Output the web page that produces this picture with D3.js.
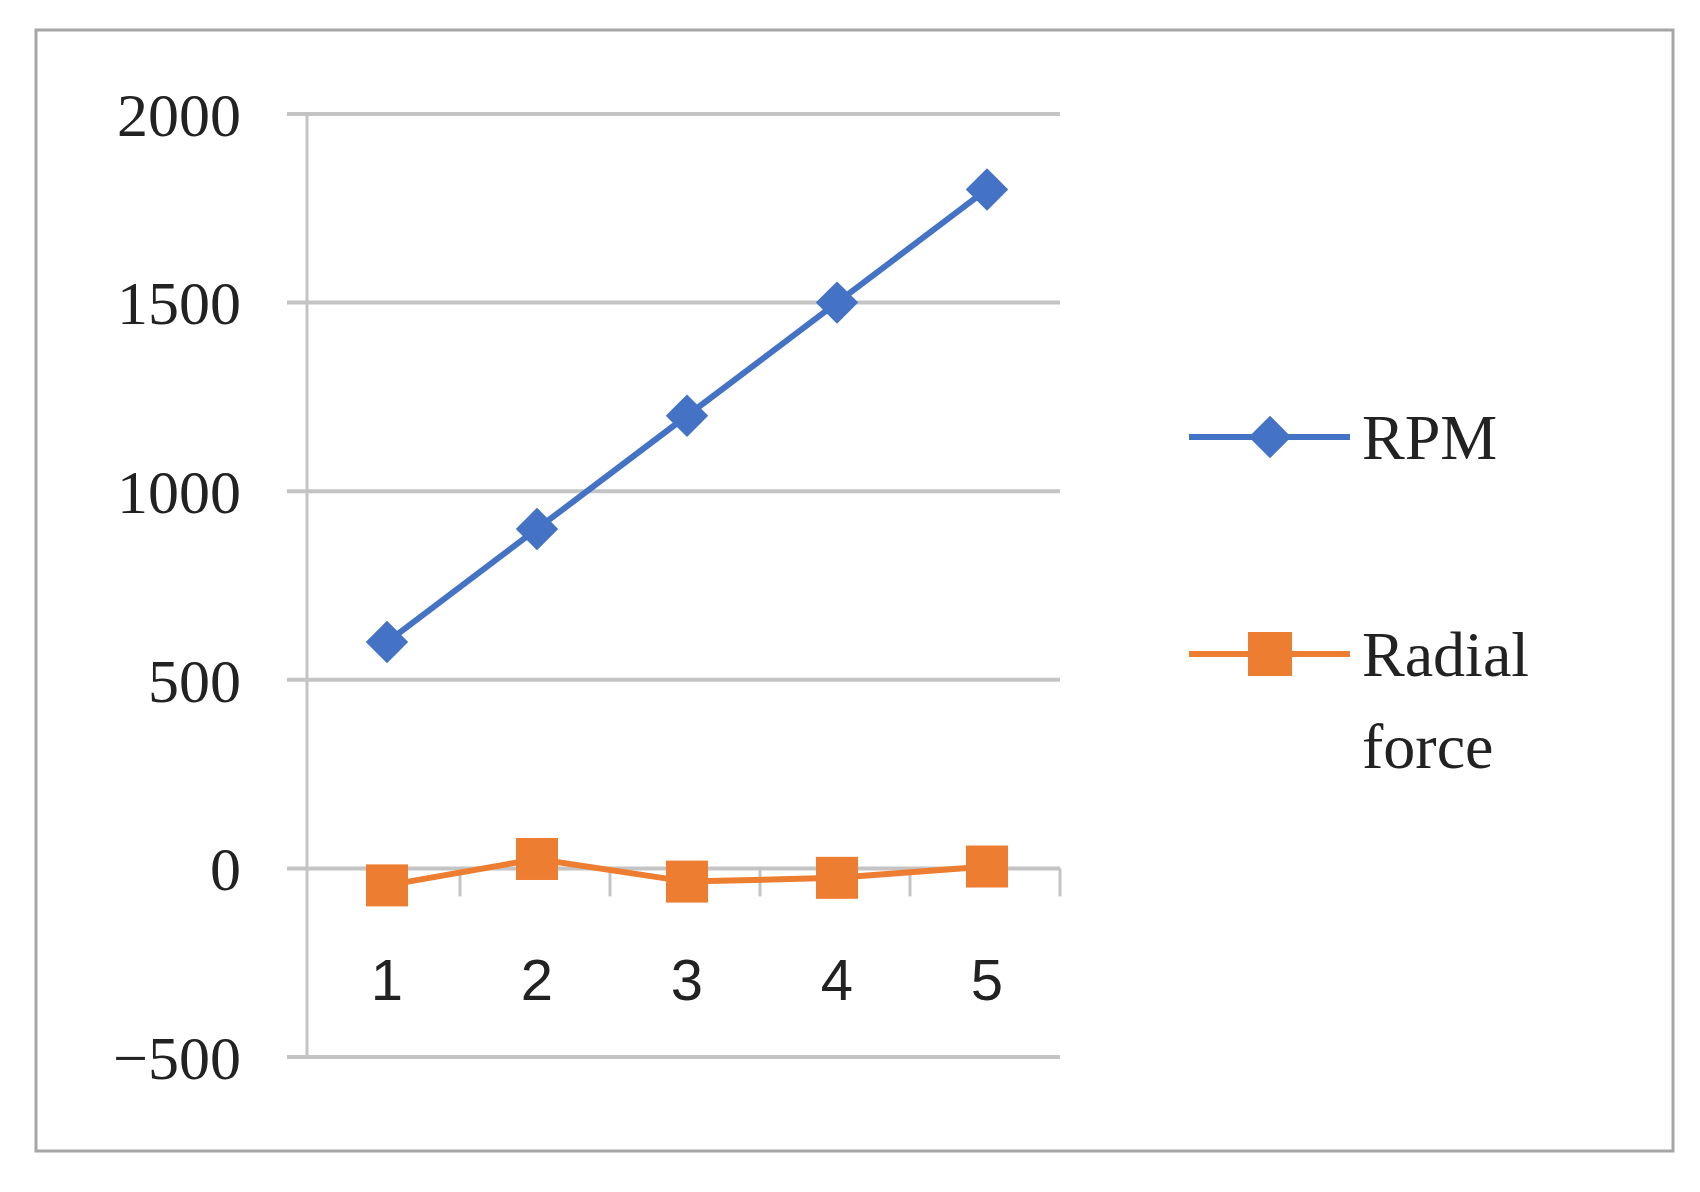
<!DOCTYPE html>
<html lang="en">
<head>
<meta charset="UTF-8">
<title>RPM and Radial force</title>
<script src="https://d3js.org/d3.v7.min.js"></script>
<style>body{margin:0;background:#fff}</style>
</head>
<body>
<div id="chart"></div>
<script>
    var categories = ["1", "2", "3", "4", "5"];
    var rpm = [600, 900, 1200, 1500, 1800];
    var radial = [-45, 25, -35, -25, 5];
    var yTicks = [-500, 0, 500, 1000, 1500, 2000];

    var w = 1700, h = 1192;
    var svg = d3.select("#chart").append("svg").attr("width", w).attr("height", h);

    svg.append("rect").attr("x", 36).attr("y", 30).attr("width", 1637).attr("height", 1121)
       .attr("fill", "none").attr("stroke", "#a6a6a6").attr("stroke-width", 3);

    var x = d3.scalePoint().domain(categories).range([312, 1062]).padding(0.5);
    var y = d3.scaleLinear().domain([-500, 2000]).range([1057, 114]);

    // grid
    svg.selectAll("line.grid").data(yTicks).enter().append("line")
       .attr("x1", 287).attr("x2", 1060)
       .attr("y1", d => y(d)).attr("y2", d => y(d))
       .attr("stroke", "#c4c4c4").attr("stroke-width", 4);
    svg.append("line").attr("x1", 307).attr("x2", 307).attr("y1", y(2000)).attr("y2", y(-500))
       .attr("stroke", "#c4c4c4").attr("stroke-width", 3);

    // category ticks on zero line
    var step = x.step();
    svg.selectAll("line.xt").data(d3.range(1, 6)).enter().append("line")
       .attr("x1", d => 310 + d * step).attr("x2", d => 310 + d * step)
       .attr("y1", y(0)).attr("y2", y(0) + 28)
       .attr("stroke", "#c4c4c4").attr("stroke-width", 3);

    svg.selectAll("text.yl").data(yTicks).enter().append("text")
       .attr("x", 241).attr("y", d => y(d)).attr("dy", "0.35em")
       .attr("text-anchor", "end").attr("font-family", "Liberation Serif").attr("font-size", 62)
       .attr("fill", "#222").text(d => d < 0 ? "\u2212" + Math.abs(d) : d);

    svg.selectAll("text.xl").data(categories).enter().append("text")
       .attr("x", d => x(d)).attr("y", 1000).attr("text-anchor", "middle")
       .attr("font-family", "Liberation Sans").attr("font-size", 58)
       .attr("fill", "#222").text(d => d);

    var line = d3.line().x((d, i) => x(categories[i])).y(d => y(d));

    svg.append("path").datum(rpm).attr("d", line).attr("fill", "none")
       .attr("stroke", "#4472c4").attr("stroke-width", 6);
    svg.selectAll("rect.rm").data(rpm).enter().append("rect")
       .attr("x", -15).attr("y", -15).attr("width", 30).attr("height", 30)
       .attr("transform", (d, i) => "translate(" + x(categories[i]) + "," + y(d) + ") rotate(45)")
       .attr("fill", "#4472c4");

    svg.append("path").datum(radial).attr("d", line).attr("fill", "none")
       .attr("stroke", "#ed7d31").attr("stroke-width", 6);
    svg.selectAll("rect.rf").data(radial).enter().append("rect")
       .attr("x", (d, i) => x(categories[i]) - 21).attr("y", d => y(d) - 21)
       .attr("width", 42).attr("height", 42).attr("fill", "#ed7d31");

    // legend
    var lg = svg.append("g").attr("font-family", "Liberation Serif").attr("font-size", 64).attr("fill", "#222");
    lg.append("line").attr("x1", 1189).attr("x2", 1350).attr("y1", 437).attr("y2", 437)
      .attr("stroke", "#4472c4").attr("stroke-width", 6);
    lg.append("rect").attr("x", -15).attr("y", -15).attr("width", 30).attr("height", 30)
      .attr("transform", "translate(1270,437) rotate(45)").attr("fill", "#4472c4");
    lg.append("text").attr("x", 1362).attr("y", 437).attr("dy", "0.35em").text("RPM");
    lg.append("line").attr("x1", 1189).attr("x2", 1350).attr("y1", 654).attr("y2", 654)
      .attr("stroke", "#ed7d31").attr("stroke-width", 6);
    lg.append("rect").attr("x", 1248).attr("y", 632).attr("width", 44).attr("height", 44).attr("fill", "#ed7d31");
    lg.append("text").attr("x", 1362).attr("y", 654).attr("dy", "0.35em").text("Radial");
    lg.append("text").attr("x", 1362).attr("y", 746).attr("dy", "0.35em").text("force");
</script>
</body>
</html>
